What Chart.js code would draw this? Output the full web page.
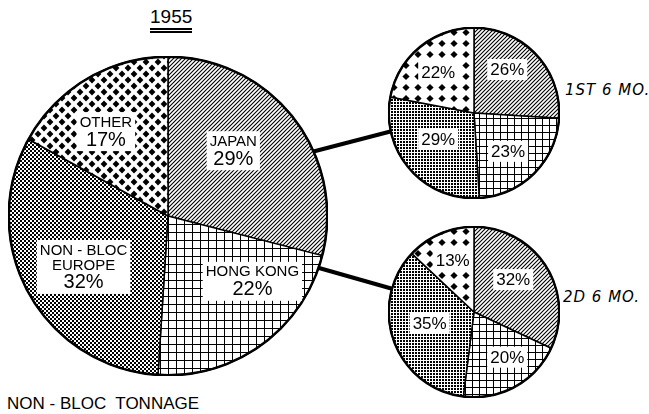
<!DOCTYPE html>
<html lang="en">
<head>
<meta charset="UTF-8">
<title>Non-Bloc Tonnage 1955</title>
<script src="https://cdn.jsdelivr.net/npm/chart.js"></script>
<style>
  body { margin: 0; background: #fff; }
  #wrap { position: relative; width: 649px; height: 414px; overflow: hidden; font-family: "Liberation Sans", Arial, sans-serif; color: #000; }
  canvas { position: absolute; }
  svg { position: absolute; left: 0; top: 0; }
  .txt { position: absolute; white-space: pre; line-height: 1; }
  #title { left: 150px; top: 7px; font-size: 19px; padding-bottom: 2px; border-bottom: 5px double #000; }
  #foot { left: 7px; top: 395px; font-size: 17px; }
  .period { font-family: "DejaVu Sans", sans-serif; font-style: italic; font-size: 15px; letter-spacing: 1px; }
  #p1 { left: 565px; top: 83px; }
  #p2 { left: 563px; top: 290px; }
</style>
</head>
<body>
<div id="wrap">
  <svg width="649" height="414">
    <line x1="300" y1="155" x2="400" y2="129" stroke="#000" stroke-width="4"/>
    <line x1="305" y1="264" x2="400" y2="291" stroke="#000" stroke-width="4"/>
  </svg>
  <canvas id="main" width="320" height="320" style="left:8px; top:56px"></canvas>
  <canvas id="first" width="172" height="172" style="left:388px; top:27px"></canvas>
  <canvas id="second" width="172" height="172" style="left:388px; top:226px"></canvas>
  <div class="txt" id="title">1955</div>
  <div class="txt period" id="p1"></div>
  <div class="txt period" id="p2"></div>
  <div class="txt" id="foot">NON - BLOC  TONNAGE</div>
</div>
<script>
  // shares of non-bloc tonnage, percent
  const categories = ['JAPAN', 'HONG KONG', 'NON-BLOC EUROPE', 'OTHER'];
  const year1955 = [29, 22, 32, 17];
  const firstHalf = [26, 23, 29, 22];
  const secondHalf = [32, 20, 35, 13];
  const periodLabels = ['1ST 6 MO.', '2D 6 MO.'];

  document.getElementById('p1').textContent = periodLabels[0];
  document.getElementById('p2').textContent = periodLabels[1];

  const nameLines = { 'NON-BLOC EUROPE': ['NON - BLOC', 'EUROPE'] };

  function makePattern(w, h, draw) {
    const c = document.createElement('canvas');
    c.width = w; c.height = h;
    const g = c.getContext('2d');
    g.fillStyle = '#fff';
    g.fillRect(0, 0, w, h);
    g.fillStyle = '#000';
    g.strokeStyle = '#000';
    draw(g, w, h);
    return g.createPattern(c, 'repeat');
  }

  function hatch(s) {
    return makePattern(s, s, (g) => {
      g.lineWidth = 1.1;
      g.beginPath();
      g.moveTo(0, s); g.lineTo(s, 0);
      g.moveTo(-1, 1); g.lineTo(1, -1);
      g.moveTo(s - 1, s + 1); g.lineTo(s + 1, s - 1);
      g.stroke();
    });
  }

  function grid(s) {
    return makePattern(s, s, (g) => {
      g.fillRect(0, 0, s, 1);
      g.fillRect(0, 0, 1, s);
    });
  }

  function checker() {
    return makePattern(4, 4, (g) => {
      g.fillRect(0, 0, 2, 2);
      g.fillRect(2, 2, 2, 2);
    });
  }

  function dots() {
    return makePattern(3, 3, (g) => {
      g.fillRect(0, 0, 2, 2);
    });
  }

  function diamond(g, x, y, r) {
    g.beginPath();
    g.moveTo(x, y - r); g.lineTo(x + r, y); g.lineTo(x, y + r); g.lineTo(x - r, y);
    g.closePath();
    g.fill();
  }

  function diamonds(w, h, r, staggered) {
    return makePattern(w, h, (g) => {
      diamond(g, w / 2, h / 2, r);
      if (staggered) {
        [[0, 0], [w, 0], [0, h], [w, h]].forEach(p => diamond(g, p[0], p[1], r));
      }
    });
  }

  const mainFills = [hatch(4), grid(8), checker(), diamonds(12, 12, 3.4, true)];
  const smallFills = [hatch(4), grid(7), dots(), diamonds(12, 11, 3.6, false)];

  const sliceLabels = {
    id: 'sliceLabels',
    afterDatasetsDraw(chart, args, opts) {
      const ctx = chart.ctx;
      const meta = chart.getDatasetMeta(0);
      const values = chart.data.datasets[0].data;
      const first = meta.data[0];

      // heavy outer rim
      ctx.save();
      ctx.beginPath();
      ctx.arc(first.x, first.y, first.outerRadius, 0, Math.PI * 2);
      ctx.lineWidth = opts.rim;
      ctx.strokeStyle = '#000';
      ctx.stroke();
      ctx.restore();

      meta.data.forEach((arc, i) => {
        const r = arc.outerRadius;
        const cx = arc.x + opts.spots[i][0] * r;
        const cy = arc.y + opts.spots[i][1] * r;
        const lines = [];
        if (opts.names) {
          const name = chart.data.labels[i];
          (nameLines[name] || [name]).forEach(t => lines.push({ t, f: opts.nameFont, h: opts.nameH }));
        }
        lines.push({ t: values[i] + '%', f: opts.valueFont, h: opts.valueH });

        ctx.save();
        let w = 0, h = 0;
        lines.forEach(l => { ctx.font = l.f; w = Math.max(w, ctx.measureText(l.t).width); h += l.h; });
        ctx.fillStyle = '#fff';
        ctx.fillRect(cx - w / 2 - 3, cy - h / 2 - 2, w + 6, h + 4);
        ctx.fillStyle = '#000';
        ctx.textAlign = 'center';
        ctx.textBaseline = 'middle';
        let y = cy - h / 2;
        lines.forEach(l => {
          ctx.font = l.f;
          ctx.fillText(l.t, cx, y + l.h / 2 + 1);
          y += l.h;
        });
        ctx.restore();
      });
    }
  };

  function drawPie(id, values, fills, labelOpts) {
    new Chart(document.getElementById(id), {
      type: 'pie',
      data: {
        labels: categories,
        datasets: [{
          data: values,
          backgroundColor: fills,
          borderColor: '#000',
          borderWidth: 1.5
        }]
      },
      options: {
        responsive: false,
        animation: false,
        events: [],
        plugins: {
          legend: { display: false },
          tooltip: { enabled: false },
          sliceLabels: labelOpts
        }
      },
      plugins: [sliceLabels]
    });
  }

  drawPie('main', year1955, mainFills, {
    names: true,
    rim: 2.5,
    nameFont: '15px "Liberation Sans", Arial, sans-serif',
    nameH: 15,
    valueFont: '20px "Liberation Sans", Arial, sans-serif',
    valueH: 20,
    spots: [[0.41, -0.41], [0.53, 0.41], [-0.53, 0.32], [-0.39, -0.53]]
  });

  drawPie('first', firstHalf, smallFills, {
    names: false,
    rim: 2.5,
    valueFont: '17px "Liberation Sans", Arial, sans-serif',
    valueH: 17,
    spots: [[0.39, -0.51], [0.40, 0.45], [-0.42, 0.31], [-0.42, -0.48]]
  });

  drawPie('second', secondHalf, smallFills, {
    names: false,
    rim: 2.5,
    valueFont: '17px "Liberation Sans", Arial, sans-serif',
    valueH: 17,
    spots: [[0.46, -0.38], [0.39, 0.53], [-0.52, 0.13], [-0.25, -0.61]]
  });
</script>
</body>
</html>
